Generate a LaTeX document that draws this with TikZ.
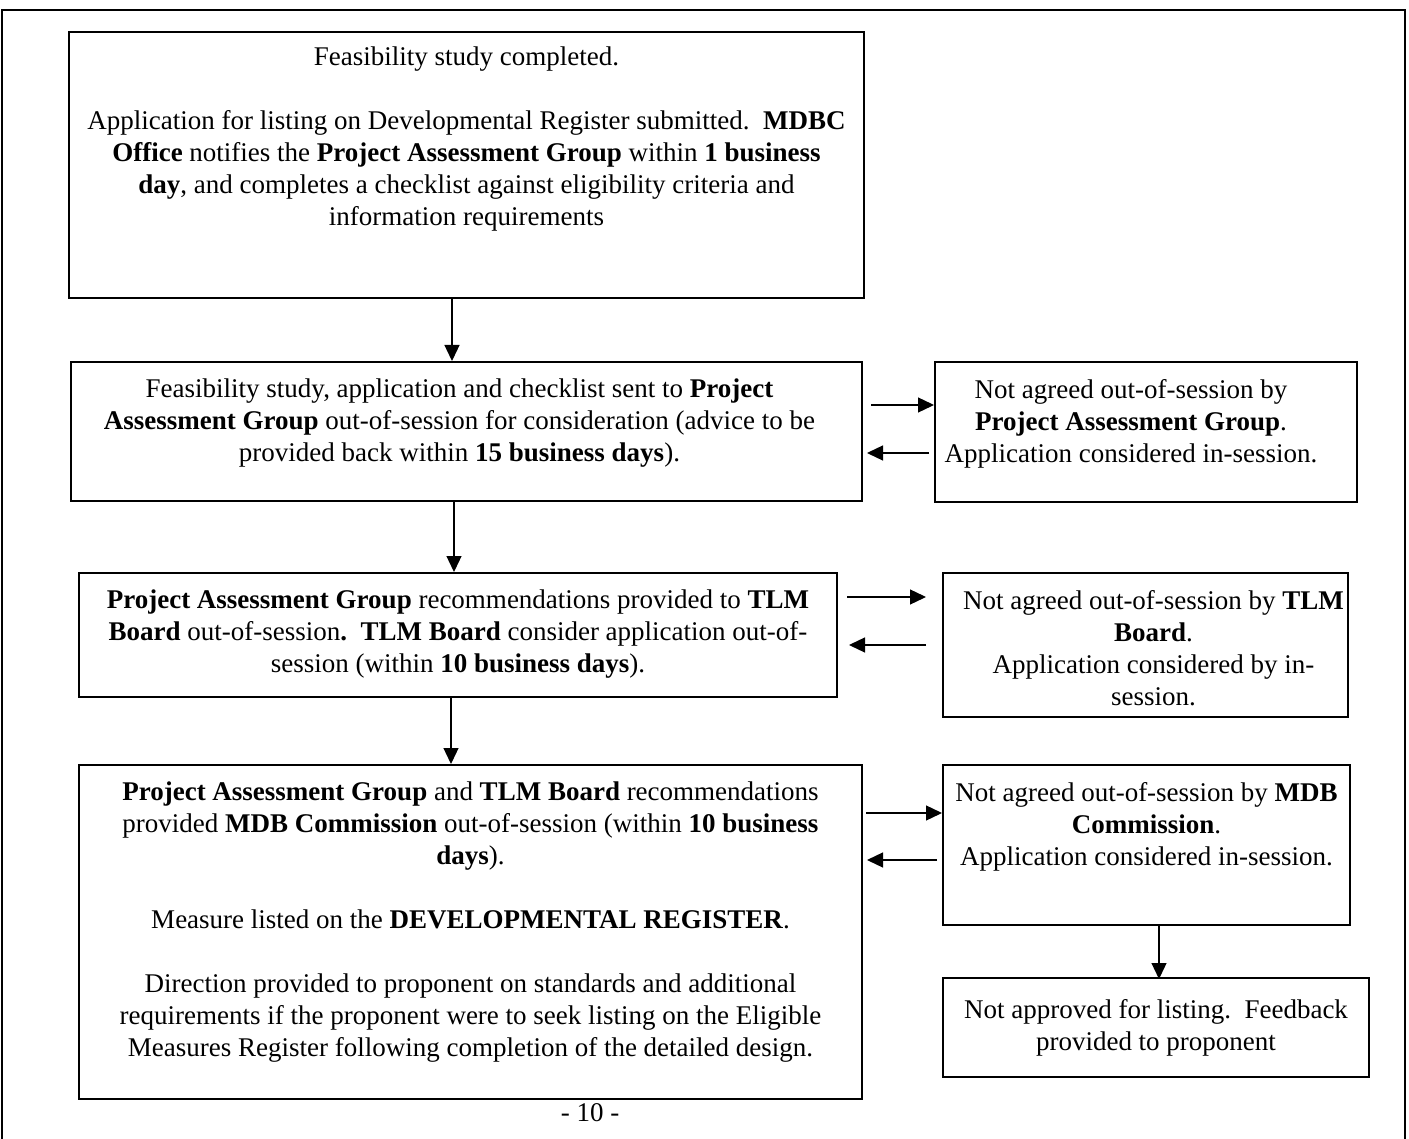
\documentclass[tikz,border=0pt]{standalone}
\usepackage{fontspec}
\setmainfont{Liberation Serif}
\usetikzlibrary{arrows.meta}

\begin{document}
\begin{tikzpicture}[x=1pt,y=1pt,
    box/.style={draw=black,line width=2pt,inner sep=0pt},
    txt/.style={align=center,inner sep=0pt,anchor=north,font=\fontsize{27}{32}\selectfont},
    arr/.style={line width=1.3pt,-{Triangle[length=16pt,width=15pt]}},
  ]
    \useasboundingbox (0,0) rectangle (1409,-1139);
    % page frame, open at the bottom
    \draw[line width=2pt] (2,-1139) -- (2,-10) -- (1405,-10) -- (1405,-1139);

    \node[box,minimum width=795pt,minimum height=266pt] (b1) at (466.5,-165) {};
    \node[box,minimum width=791pt,minimum height=139pt] (b2) at (466.5,-431.5) {};
    \node[box,minimum width=422pt,minimum height=140pt] (r2) at (1146,-432) {};
    \node[box,minimum width=758pt,minimum height=124pt] (b3) at (458,-635) {};
    \node[box,minimum width=405pt,minimum height=144pt] (r3) at (1145.5,-645) {};
    \node[box,minimum width=783pt,minimum height=334pt] (b4) at (470.5,-932) {};
    \node[box,minimum width=407pt,minimum height=160pt] (r4) at (1146.5,-845) {};
    \node[box,minimum width=426pt,minimum height=99pt] (r5) at (1156,-1027.5) {};

    \node[txt] (t1) at ([yshift=-16pt]b1.north) {Feasibility study completed.\\[32pt]
      Application for listing on Developmental Register submitted.\ \ \textbf{MDBC}\\
      \textbf{Office} notifies the \textbf{Project Assessment Group} within \textbf{1 business}\\
      \textbf{day}, and completes a checklist against eligibility criteria and\\
      information requirements};
    \node[txt] (t2) at ([xshift=-7pt,yshift=-18pt]b2.north) {Feasibility study, application and checklist sent to \textbf{Project}\\
      \textbf{Assessment Group} out-of-session for consideration (advice to be\\
      provided back within \textbf{15 business days}).};
    \node[txt] (u2) at ([xshift=-15pt,yshift=-18pt]r2.north) {Not agreed out-of-session by\\
      \textbf{Project Assessment Group}.\\
      Application considered in-session.};
    \node[txt] (t3) at ([yshift=-18pt]b3.north) {\textbf{Project Assessment Group} recommendations provided to \textbf{TLM}\\
      \textbf{Board} out-of-session\textbf{.\ \ TLM Board} consider application out-of-\\
      session (within \textbf{10 business days}).};
    \node[txt] (u3) at ([xshift=8pt,yshift=-18pt]r3.north) {Not agreed out-of-session by \textbf{TLM}\\
      \textbf{Board}.\\
      Application considered by in-\\
      session.};
    \node[txt] (t4) at ([yshift=-18pt]b4.north) {\textbf{Project Assessment Group} and \textbf{TLM Board} recommendations\\
      provided \textbf{MDB Commission} out-of-session (within \textbf{10 business}\\
      \textbf{days}).\\[32pt]
      Measure listed on the \textbf{DEVELOPMENTAL REGISTER}.\\[32pt]
      Direction provided to proponent on standards and additional\\
      requirements if the proponent were to seek listing on the Eligible\\
      Measures Register following completion of the detailed design.};
    \node[txt] (u4) at ([xshift=0pt,yshift=-18pt]r4.north) {Not agreed out-of-session by \textbf{MDB}\\
      \textbf{Commission}.\\
      Application considered in-session.};
    \node[txt] (u5) at ([yshift=-22pt]r5.north) {Not approved for listing.\ \ Feedback\\
      provided to proponent};

    \node[txt] (pg) at (590,-1103) {- 10 -};

    % down the main column
    \draw[arr] (b1.south -| 452,0) -- (b2.north -| 452,0);
    \draw[arr] (b2.south -| 454,0) -- (b3.north -| 454,0);
    \draw[arr] (b3.south -| 451,0) -- (b4.north -| 451,0);
    \draw[arr] (r4.south -| 1159,0) -- ([yshift=-2pt]r5.north -| 1159,0);

    % out and back
    \draw[arr,shorten <=8pt] (b2.east |- 0,-405) -- (r2.west |- 0,-405);
    \draw[arr,shorten <=5pt,shorten >=4pt] (r2.west |- 0,-453) -- (b2.east |- 0,-453);
    \draw[arr,shorten <=9pt,shorten >=16pt] (b3.east |- 0,-597) -- (r3.west |- 0,-597);
    \draw[arr,shorten <=16pt,shorten >=11pt] (r3.west |- 0,-645) -- (b3.east |- 0,-645);
    \draw[arr,shorten <=3pt] (b4.east |- 0,-813) -- (r4.west |- 0,-813);
    \draw[arr,shorten <=5pt,shorten >=4pt] (r4.west |- 0,-860) -- (b4.east |- 0,-860);
\end{tikzpicture}
\end{document}
